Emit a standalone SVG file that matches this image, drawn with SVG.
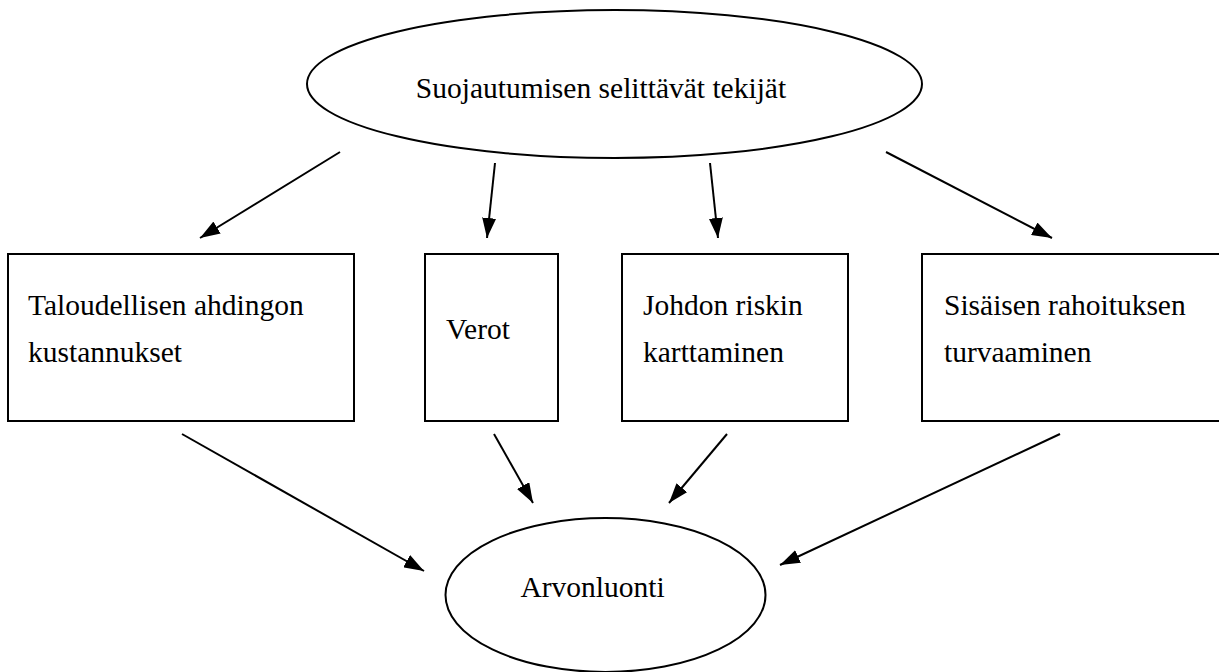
<svg xmlns="http://www.w3.org/2000/svg" width="1219" height="672" viewBox="0 0 1219 672">
<style>
.shape{fill:#fff;stroke:#000;stroke-width:2}
.lbl{font-family:"Liberation Serif","Times New Roman",serif;font-size:29.5px;fill:#000}
.conn{stroke:#000;stroke-width:2;fill:none;marker-end:url(#ah)}
</style>
<defs>
<marker id="ah" viewBox="0 0 20 14" refX="20" refY="7" markerWidth="20" markerHeight="14" markerUnits="userSpaceOnUse" orient="auto">
<path d="M0,0 L20,7 L0,14 Z" fill="#000"/>
</marker>
</defs>
<rect width="1219" height="672" fill="#fff"/>
<g id="top">
<ellipse class="shape" cx="614.5" cy="84" rx="307.5" ry="74"/>
<text class="lbl" x="601" y="98" text-anchor="middle">Suojautumisen selittävät tekijät</text>
</g>
<g id="box1">
<rect class="shape" x="8" y="254" width="346" height="167"/>
<text class="lbl" x="28" y="315">Taloudellisen ahdingon</text>
<text class="lbl" x="28" y="362">kustannukset</text>
</g>
<g id="box2">
<rect class="shape" x="425" y="254" width="133" height="167"/>
<text class="lbl" x="446" y="339">Verot</text>
</g>
<g id="box3">
<rect class="shape" x="622" y="254" width="226" height="167"/>
<text class="lbl" x="643" y="315">Johdon riskin</text>
<text class="lbl" x="643" y="362">karttaminen</text>
</g>
<g id="box4">
<rect class="shape" x="922" y="254" width="310" height="167"/>
<text class="lbl" x="944" y="315">Sisäisen rahoituksen</text>
<text class="lbl" x="944" y="362">turvaaminen</text>
</g>
<g id="bottom">
<ellipse class="shape" cx="605.5" cy="595" rx="160" ry="77"/>
<text class="lbl" x="592.5" y="597" text-anchor="middle">Arvonluonti</text>
</g>
<g id="connectors">
<line class="conn" x1="340" y1="152" x2="200" y2="238"/>
<line class="conn" x1="495" y1="163" x2="487" y2="238"/>
<line class="conn" x1="710" y1="163" x2="718" y2="238"/>
<line class="conn" x1="886" y1="152" x2="1052" y2="238"/>
<line class="conn" x1="182" y1="434" x2="424" y2="571"/>
<line class="conn" x1="494" y1="434" x2="533" y2="503"/>
<line class="conn" x1="727" y1="434" x2="669" y2="503"/>
<line class="conn" x1="1060" y1="434" x2="780" y2="565"/>
</g>
</svg>
